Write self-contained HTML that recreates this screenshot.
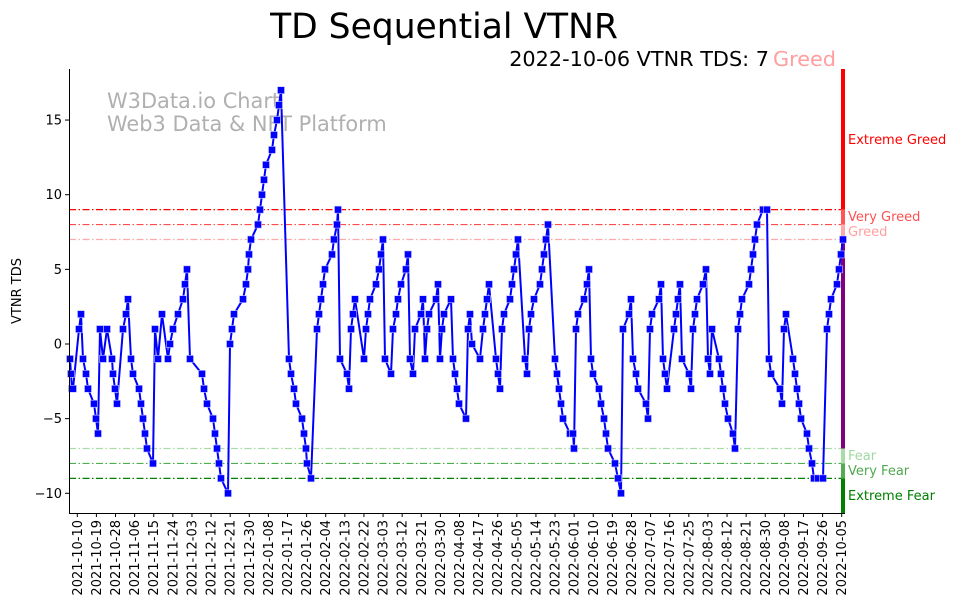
<!DOCTYPE html>
<html><head><meta charset="utf-8"><style>
html,body{margin:0;padding:0;background:#fff;}
svg{display:block;font-family:"DejaVu Sans","Liberation Sans",sans-serif;}
</style></head><body>
<svg id="s" width="962" height="613" viewBox="0 0 962 613" xmlns="http://www.w3.org/2000/svg">
<text x="444" y="38" font-size="34.5" text-anchor="middle" fill="#000">TD Sequential VTNR</text>
<text x="769" y="66" font-size="20.8" text-anchor="end" fill="#000">2022-10-06 VTNR TDS: 7</text>
<text x="773" y="66" font-size="20.8" fill="#ff9f9f">Greed</text>
<text x="107" y="108" font-size="20.9" fill="#b0b0b0">W3Data.io Chart</text>
<text x="107" y="131" font-size="20.9" fill="#b0b0b0">Web3 Data &amp; NFT Platform</text>
<g id="hl"></g>
<g id="bar"></g>
<g id="ser"></g>
<line x1="69.5" y1="69" x2="69.5" y2="513" stroke="#000" stroke-width="1"/>
<line x1="69" y1="513.5" x2="845" y2="513.5" stroke="#000" stroke-width="1"/>
<g id="yt" font-size="13" fill="#000"></g>
<g id="xt" font-size="13" fill="#000"></g>
<text transform="translate(21,291) rotate(-90)" font-size="13" text-anchor="middle">VTNR TDS</text>
<text x="848" y="144" font-size="13" fill="#ff0000">Extreme Greed</text>
<text x="848" y="221" font-size="13" fill="#ff5050">Very Greed</text>
<text x="848" y="236" font-size="13" fill="#ffa0a0">Greed</text>
<text x="848" y="460" font-size="13" fill="#a0d8a0">Fear</text>
<text x="848" y="475" font-size="13" fill="#50a850">Very Fear</text>
<text x="848" y="500" font-size="13" fill="#008000">Extreme Fear</text>
</svg>
<script>
var NS="http://www.w3.org/2000/svg";
function Y(v){return 344-v*14.93;}
function el(t,a,p){var e=document.createElementNS(NS,t);for(var k in a)e.setAttribute(k,a[k]);document.getElementById(p).appendChild(e);return e;}
[[9,"#ff0000"],[8,"#ff4c4c"],[7,"#ffaaaa"],[-7,"#a8dca8"],[-8,"#4caf4c"],[-9,"#008000"]].forEach(function(h){
 el("line",{x1:69,x2:841,y1:Y(h[0]),y2:Y(h[0]),stroke:h[1],"stroke-width":1.2,"stroke-dasharray":"7,2.5,1.5,2.5"},"hl");});
[[69,Y(9),"#ff0000"],[Y(9),Y(8),"#ff5555"],[Y(8),Y(7),"#ffaaaa"],[Y(7),Y(-7),"#800080"],[Y(-7),Y(-8),"#a8dca8"],[Y(-8),Y(-9),"#55aa55"],[Y(-9),513,"#008000"]].forEach(function(b){
 el("rect",{x:841,y:b[0],width:4,height:b[1]-b[0],fill:b[2]},"bar");});
var P=[[70,-1],[71,-2],[72,-3],[73,-3],[79,1],[81,2],[83,-1],[86,-2],[88,-3],[94,-4],[96,-5],[98,-6],[100,1],[103,-1],[107,1],[112,-1],[113,-2],[115,-3],[117,-4],[123,1],[126,2],[128,3],[131,-1],[133,-2],[139,-3],[141,-4],[143,-5],[145,-6],[147,-7],[153,-8],[155,1],[158,-1],[162,2],[168,-1],[170,0],[173,1],[178,2],[183,3],[185,4],[187,5],[190,-1],[202,-2],[204,-3],[207,-4],[213,-5],[215,-6],[217,-7],[219,-8],[221,-9],[228,-10],[230,0],[232,1],[234,2],[243,3],[246,4],[248,5],[249,6],[251,7],[258,8],[260,9],[262,10],[264,11],[266,12],[272,13],[274,14],[277,15],[279,16],[281,17],[289,-1],[291,-2],[294,-3],[296,-4],[302,-5],[304,-6],[306,-7],[307,-8],[311,-9],[317,1],[319,2],[321,3],[323,4],[325,5],[332,6],[334,7],[337,8],[338,9],[340,-1],[347,-2],[349,-3],[351,1],[353,2],[355,3],[364,-1],[366,1],[368,2],[370,3],[376,4],[379,5],[381,6],[383,7],[385,-1],[391,-2],[393,1],[396,2],[398,3],[401,4],[406,5],[408,6],[410,-1],[413,-2],[415,1],[421,2],[423,3],[425,-1],[427,1],[429,2],[436,3],[438,4],[440,-1],[442,1],[444,2],[451,3],[453,-1],[455,-2],[457,-3],[459,-4],[466,-5],[468,1],[470,2],[472,0],[480,-1],[483,1],[485,2],[487,3],[489,4],[496,-1],[498,-2],[500,-3],[502,1],[504,2],[510,3],[512,4],[514,5],[516,6],[518,7],[525,-1],[527,-2],[529,1],[531,2],[534,3],[540,4],[542,5],[544,6],[546,7],[548,8],[555,-1],[557,-2],[559,-3],[561,-4],[563,-5],[570,-6],[573,-6],[574,-7],[576,1],[578,2],[584,3],[587,4],[589,5],[591,-1],[593,-2],[599,-3],[601,-4],[604,-5],[606,-6],[608,-7],[615,-8],[618,-9],[621,-10],[623,1],[629,2],[631,3],[633,-1],[636,-2],[638,-3],[646,-4],[648,-5],[650,1],[652,2],[659,3],[661,4],[663,-1],[665,-2],[667,-3],[674,1],[676,2],[678,3],[680,4],[682,-1],[689,-2],[691,-3],[693,1],[695,2],[697,3],[703,4],[706,5],[708,-1],[710,-2],[712,1],[719,-1],[721,-2],[723,-3],[725,-4],[728,-5],[733,-6],[735,-7],[738,1],[740,2],[742,3],[749,4],[751,5],[753,6],[755,7],[757,8],[763,9],[767,9],[769,-1],[771,-2],[780,-3],[782,-4],[784,1],[786,2],[793,-1],[795,-2],[797,-3],[799,-4],[801,-5],[807,-6],[809,-7],[812,-8],[814,-9],[818,-9],[823,-9],[827,1],[829,2],[831,3],[837,4],[839,5],[841,6],[843,7]];
var pts=P.map(function(p){return p[0]+","+Y(p[1]).toFixed(1);}).join(" ");
el("polyline",{points:pts,fill:"none",stroke:"#0000ff","stroke-width":2,"stroke-linejoin":"round"},"ser");
P.forEach(function(p){el("rect",{x:p[0]-3.5,y:Y(p[1])-3.5,width:7,height:7,fill:"#0000ff",stroke:"#c8c8ff","stroke-width":0.6},"ser");});
[15,10,5,0,-5,-10].forEach(function(v){var y=Y(v);
 el("line",{x1:65,x2:69,y1:y,y2:y,stroke:"#000"},"yt");
 var t=el("text",{x:62,y:y+4.5,"text-anchor":"end"},"yt");t.textContent=(v<0?"\u2212":"")+Math.abs(v);});
var d0=new Date(Date.UTC(2021,9,10));
for(var i=0;i<41;i++){var x=77.3+i*19.11;var d=new Date(d0.getTime()+i*9*86400000);
 var s=d.getUTCFullYear()+"-"+("0"+(d.getUTCMonth()+1)).slice(-2)+"-"+("0"+d.getUTCDate()).slice(-2);
 el("line",{x1:x,x2:x,y1:513,y2:517,stroke:"#000"},"xt");
 var t=el("text",{transform:"translate("+(x+4.5)+",520) rotate(-90)","text-anchor":"end"},"xt");t.textContent=s;}
</script>
</body></html>
